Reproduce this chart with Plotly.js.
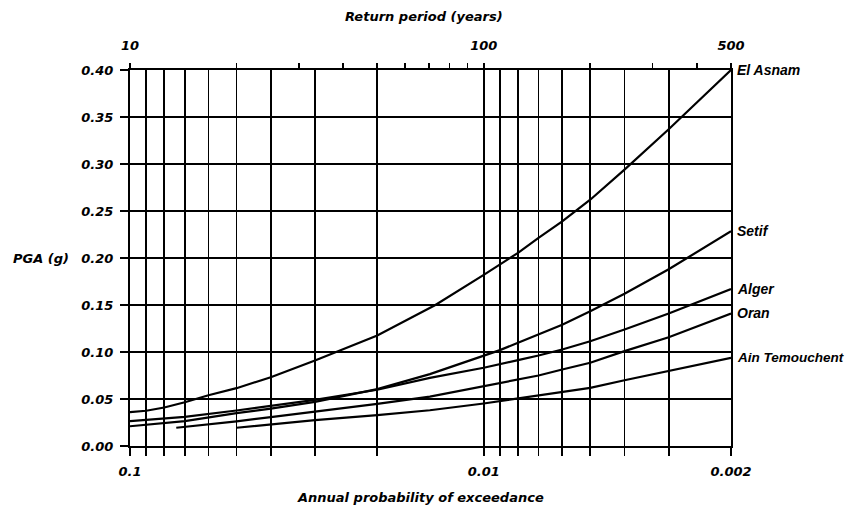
<!DOCTYPE html>
<html>
<head>
<meta charset="utf-8">
<script src="https://cdn.plot.ly/plotly-3.0.1.min.js"></script>
<style>html,body{margin:0;padding:0;background:#fff;}#chart{width:845px;height:508px;}</style>
</head>
<body>
<div id="chart"></div>
<script>
// ---- Data ----
const probTicks = [0.1,0.09,0.08,0.07,0.06,0.05,0.04,0.03,0.02,0.01,0.009,0.008,0.007,0.006,0.005,0.004,0.003,0.002];
const probLabels = ['0.1','','','','','','','','','0.01','','','','','','','','0.002'];
const returnTicks = [10,20,30,40,50,60,70,80,90,100,200,300,400,500];
const returnLabels = ['10','','','','','','','','','100','','','','500'];
const pgaTicks = [0,0.05,0.10,0.15,0.20,0.25,0.30,0.35,0.40];

const elAsnamP   = [0.1,0.09,0.08,0.07,0.06,0.05,0.04,0.03,0.02,0.0137,0.01,0.009,0.008,0.007,0.006,0.005,0.004,0.003,0.002];
const elAsnamPGA = [0.036,0.0375,0.041,0.0465,0.054,0.0615,0.0732,0.091,0.1176,0.150,0.182,0.193,0.2055,0.2215,0.239,0.262,0.294,0.337,0.400];

const setifP   = [0.1,0.07,0.05,0.04,0.03,0.02,0.0142,0.01,0.009,0.008,0.007,0.006,0.005,0.004,0.003,0.002];
const setifPGA = [0.021,0.0265,0.035,0.0398,0.047,0.0605,0.0765,0.0963,0.102,0.1098,0.1186,0.129,0.1434,0.162,0.188,0.2285];

const algerP   = [0.1,0.07,0.05,0.04,0.03,0.02,0.0142,0.01,0.009,0.008,0.007,0.006,0.005,0.004,0.003,0.002];
const algerPGA = [0.0264,0.031,0.0378,0.0425,0.049,0.0598,0.0725,0.0832,0.0867,0.0913,0.0963,0.1027,0.1115,0.124,0.141,0.167];

const oranP   = [0.074,0.07,0.05,0.04,0.03,0.02,0.0142,0.01,0.009,0.008,0.007,0.006,0.005,0.004,0.003,0.002];
const oranPGA = [0.0194,0.0203,0.0262,0.0307,0.0364,0.0449,0.0525,0.0636,0.0672,0.0707,0.075,0.0814,0.0885,0.1009,0.1157,0.141];

const ainP   = [0.05,0.04,0.03,0.02,0.0142,0.01,0.009,0.008,0.007,0.006,0.005,0.004,0.003,0.002];
const ainPGA = [0.0194,0.0229,0.0275,0.0328,0.038,0.0452,0.0477,0.0513,0.054,0.0577,0.0619,0.07,0.0796,0.0938];

const seriesNames = ['El Asnam','Setif','Alger','Oran','Ain Temouchent'];
const seriesP = [elAsnamP, setifP, algerP, oranP, ainP];
const seriesPGA = [elAsnamPGA, setifPGA, algerPGA, oranPGA, ainPGA];

// ---- Styling ----
const AX_FONT = {family: 'DejaVu Sans, sans-serif', size: 13, color: '#000', weight: 'bold', style: 'italic'};
const LBL_FONT = {family: 'Liberation Sans, Arial, sans-serif', size: 14, color: '#000', weight: 'bold', style: 'italic'};
const LBL_FONT_SMALL = Object.assign({}, LBL_FONT, {size: 13.5});

const traces = seriesNames.map((n, i) => ({
  x: seriesP[i], y: seriesPGA[i], name: n, type: 'scatter', mode: 'lines',
  line: {color: '#000', width: 2.2}, showlegend: false, hoverinfo: 'x+y+name'
}));
// helper (invisible) trace so that the top return-period axis is drawn
traces.push({x: returnTicks, y: returnTicks.map(() => null), xaxis: 'x2', yaxis: 'y',
  type: 'scatter', mode: 'lines', showlegend: false, hoverinfo: 'skip'});

const annotations = seriesNames.map((n, i) => ({
  x: Math.log10(seriesP[i][seriesP[i].length - 1]),
  y: seriesPGA[i][seriesPGA[i].length - 1],
  xref: 'x', yref: 'y', text: n, showarrow: false,
  xanchor: 'left', yanchor: 'middle', xshift: 4,
  font: n.length > 10 ? LBL_FONT_SMALL : LBL_FONT
}));
annotations.push(
  {text: 'Return period (years)', xref: 'paper', yref: 'paper', x: 0.49, y: 1.143,
   showarrow: false, xanchor: 'center', yanchor: 'middle', font: AX_FONT},
  {text: 'Annual probability of exceedance', xref: 'paper', yref: 'paper', x: 0.484, y: -0.137,
   showarrow: false, xanchor: 'center', yanchor: 'middle', font: AX_FONT},
  {text: 'PGA (g)', xref: 'paper', yref: 'y', x: -0.098, y: 0.2,
   showarrow: false, xanchor: 'right', yanchor: 'middle', font: AX_FONT}
);

const layout = {
  width: 845, height: 508,
  margin: {l: 130, r: 114, t: 70, b: 62, pad: 0},
  paper_bgcolor: '#fff', plot_bgcolor: '#fff',
  showlegend: false,
  xaxis: {
    type: 'log', range: [Math.log10(probTicks[0]), Math.log10(probTicks[probTicks.length - 1])],
    tickmode: 'array', tickvals: probTicks, ticktext: probLabels,
    ticks: 'outside', ticklen: 8, tickwidth: 1.6, tickcolor: '#000',
    showgrid: true, gridcolor: '#000', gridwidth: 1.6,
    showline: true, linecolor: '#000', linewidth: 2,
    zeroline: false, tickfont: AX_FONT, ticklabelstandoff: 4
  },
  xaxis2: {
    type: 'log', overlaying: 'x', side: 'top', anchor: 'y',
    range: [Math.log10(returnTicks[0]), Math.log10(returnTicks[returnTicks.length - 1])],
    tickmode: 'array', tickvals: returnTicks, ticktext: returnLabels,
    ticks: 'outside', ticklen: 5, tickwidth: 1.6, tickcolor: '#000',
    showgrid: false, showline: true, linecolor: '#000', linewidth: 2,
    zeroline: false, tickfont: AX_FONT, ticklabelstandoff: 8
  },
  yaxis: {
    range: [0, 0.4], tickmode: 'array', tickvals: pgaTicks, tickformat: '.2f',
    ticks: 'outside', ticklen: 8, tickwidth: 1.6, tickcolor: '#000',
    showgrid: true, gridcolor: '#000', gridwidth: 1.6,
    showline: true, mirror: true, linecolor: '#000', linewidth: 2,
    zeroline: false, tickfont: AX_FONT, ticklabelstandoff: 4
  },
  annotations: annotations
};

Plotly.newPlot('chart', traces, layout, {staticPlot: true, displayModeBar: false});
</script>
</body>
</html>
